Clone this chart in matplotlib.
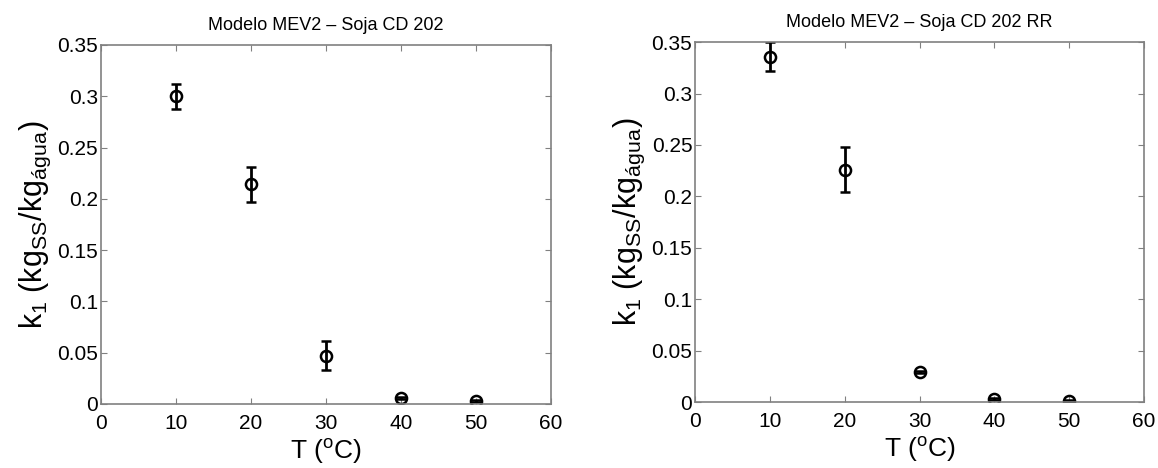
import matplotlib.pyplot as plt
from matplotlib.ticker import FuncFormatter

plt.rcParams['font.family'] = ['Liberation Sans', 'DejaVu Sans']
plt.rcParams['mathtext.fontset'] = 'custom'
plt.rcParams['mathtext.rm'] = 'Liberation Sans'
plt.rcParams['mathtext.it'] = 'Liberation Sans'

temps = [10, 20, 30, 40, 50]

# Soja CD 202
k1_cd202 = [0.300, 0.214, 0.047, 0.006, 0.003]
err_cd202 = [0.012, 0.017, 0.014, 0.001, 0.001]

# Soja CD 202 RR
k1_cd202rr = [0.336, 0.226, 0.029, 0.003, 0.001]
err_cd202rr = [0.014, 0.022, 0.001, 0.001, 0.001]

titles = ['Modelo MEV2 \u2013 Soja CD 202', 'Modelo MEV2 \u2013 Soja CD 202 RR']
ylabel = r'k$_1$ (kg$_{\mathrm{SS}}$/kg$_{\mathrm{água}}$)'
xlabel = r'T ($^{\mathrm{o}}$C)'

fig = plt.figure(figsize=(11.58, 4.68), dpi=100)
ax1 = fig.add_axes([0.0872, 0.1368, 0.3886, 0.7671])
ax2 = fig.add_axes([0.6002, 0.1410, 0.3877, 0.7690])

fmt = FuncFormatter(lambda v, p: '%g' % round(v, 4))

for ax, k, e, t in [(ax1, k1_cd202, err_cd202, titles[0]),
                    (ax2, k1_cd202rr, err_cd202rr, titles[1])]:
    ax.errorbar(temps, k, yerr=e, fmt='o', mfc='none', mec='black', color='black',
                ms=8, mew=1.8, elinewidth=2, capsize=3.5, capthick=2)
    ax.set_xlim(0, 60)
    ax.set_ylim(0, 0.35)
    ax.set_xticks(range(0, 61, 10))
    ax.set_yticks([0, 0.05, 0.1, 0.15, 0.2, 0.25, 0.3, 0.35])
    ax.yaxis.set_major_formatter(fmt)
    ax.tick_params(direction='in', top=True, right=True, length=4, width=0.8,
                   color='#808080', labelsize=15)
    ax.tick_params(axis='x', pad=7)
    ax.tick_params(axis='y', pad=2)
    for s in ax.spines.values():
        s.set_color('#808080')
        s.set_linewidth(1.2)
    ax.set_title(t, fontsize=13, pad=11)
    ax.set_xlabel(xlabel, fontsize=19, labelpad=3)
    ax.set_ylabel(ylabel, fontsize=22, labelpad=3)

fig.savefig('out.png', dpi=100)
